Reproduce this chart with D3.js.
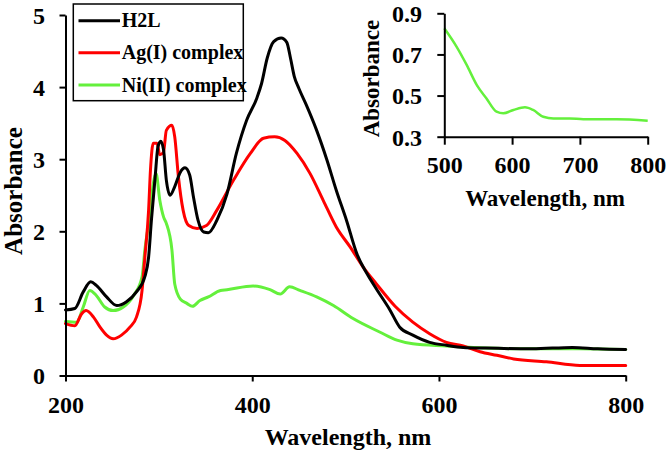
<!DOCTYPE html>
<html>
<head>
<meta charset="utf-8">
<script src="https://cdn.jsdelivr.net/npm/d3@7"></script>
<style>
  html, body { margin: 0; padding: 0; background: #fff; }
  svg { display: block; }
  text { font-family: "Liberation Serif", "Times New Roman", serif; font-weight: bold; fill: #000; }
</style>
</head>
<body>
<svg id="chart" width="669" height="454"></svg>
<script>
// ---------- data ----------
const seriesNames = ["H2L", "Ag(I) complex", "Ni(II) complex"];
const seriesColors = ["#000000", "#ff0000", "#64f03c"];

const h2lWavelength = [200, 210, 219, 227, 233, 244, 255, 265, 276, 285, 289, 292, 296, 299, 302, 305, 308, 312, 317, 323, 328, 333, 337, 342, 348, 353, 362, 373, 383, 394, 405, 410, 416, 423, 431, 437, 441, 445, 450, 458, 469, 480, 490, 501, 512, 523, 533, 547, 558, 572, 590, 608, 626, 650, 700, 743, 770, 800];
const h2lAbs = [0.91, 0.93, 1.16, 1.30, 1.25, 1.09, 0.97, 1.02, 1.16, 1.37, 1.64, 2.15, 2.75, 3.17, 3.25, 3.13, 2.71, 2.50, 2.62, 2.82, 2.88, 2.78, 2.48, 2.15, 1.99, 1.98, 2.15, 2.52, 3.08, 3.54, 3.85, 4.05, 4.40, 4.63, 4.68, 4.62, 4.40, 4.15, 3.98, 3.75, 3.40, 2.99, 2.57, 2.15, 1.69, 1.41, 1.20, 0.92, 0.67, 0.56, 0.46, 0.42, 0.39, 0.38, 0.37, 0.39, 0.37, 0.36];

const agWavelength = [200, 210, 217, 222, 230, 237, 244, 251, 260, 269, 276, 282, 285, 289, 291, 294, 298, 301, 305, 308, 314, 317, 321, 326, 332, 341, 351, 362, 380, 398, 412, 424, 435, 448, 462, 476, 490, 505, 519, 533, 553, 572, 590, 608, 626, 644, 662, 680, 715, 751, 800];
const agAbs = [0.72, 0.69, 0.85, 0.90, 0.81, 0.67, 0.56, 0.51, 0.56, 0.67, 0.81, 1.18, 1.64, 2.29, 2.85, 3.22, 3.22, 3.06, 3.10, 3.40, 3.47, 3.31, 2.75, 2.29, 2.08, 2.04, 2.08, 2.29, 2.71, 3.08, 3.29, 3.31, 3.26, 3.08, 2.80, 2.43, 2.06, 1.78, 1.50, 1.27, 0.96, 0.74, 0.58, 0.46, 0.41, 0.33, 0.28, 0.23, 0.19, 0.14, 0.14];

const niWavelength = [200, 212, 219, 226, 233, 242, 251, 262, 273, 282, 285, 291, 294, 297, 301, 305, 308, 314, 317, 323, 330, 336, 344, 353, 366, 373, 401, 419, 430, 440, 451, 469, 487, 508, 537, 555, 572, 608, 650, 700, 750, 800];
const niAbs = [0.75, 0.74, 0.95, 1.18, 1.11, 0.95, 0.90, 0.95, 1.11, 1.37, 1.74, 2.29, 2.66, 2.80, 2.43, 2.20, 2.11, 1.74, 1.27, 1.06, 1.00, 0.96, 1.04, 1.09, 1.18, 1.19, 1.24, 1.19, 1.13, 1.23, 1.18, 1.09, 0.97, 0.79, 0.60, 0.49, 0.44, 0.41, 0.38, 0.37, 0.37, 0.36];

const insetWavelength = [500, 518, 533, 548, 562, 577, 587, 602, 619, 631, 646, 661, 685, 705, 754, 800];
const insetAbs = [0.827, 0.738, 0.649, 0.551, 0.487, 0.422, 0.414, 0.430, 0.443, 0.430, 0.397, 0.389, 0.389, 0.385, 0.385, 0.378];

const mainXTicks = [200, 400, 600, 800];
const mainYTicks = [0, 1, 2, 3, 4, 5];
const insetXTicks = [500, 600, 700, 800];
const insetYTicks = [0.3, 0.5, 0.7, 0.9];
const xTitle = "Wavelength, nm";
const yTitle = "Absorbance";

// ---------- drawing ----------
const svg = d3.select("#chart");
const zip = (xs, ys) => xs.map((x, i) => [x, ys[i]]);

// main scales
const x = d3.scaleLinear().domain([200, 800]).range([65.5, 625.7]);
const y = d3.scaleLinear().domain([0, 5]).range([375.5, 15]);

const line = d3.line().x(d => x(d[0])).y(d => y(d[1])).curve(d3.curveMonotoneX);

const seriesData = [zip(h2lWavelength, h2lAbs), zip(agWavelength, agAbs), zip(niWavelength, niAbs)];
const drawOrder = [2, 1, 0];
drawOrder.forEach(i => {
  svg.append("path")
    .datum(seriesData[i])
    .attr("fill", "none")
    .attr("stroke", seriesColors[i])
    .attr("stroke-width", 3)
    .attr("stroke-linejoin", "round")
    .attr("stroke-linecap", "round")
    .attr("d", line);
});

// main axes
const xAxis = svg.append("g").attr("transform", `translate(0,${y(0)})`)
  .call(d3.axisBottom(x).tickValues(mainXTicks).tickSize(6).tickSizeOuter(0).tickFormat(d3.format("d")));
xAxis.selectAll("text").attr("y", 37.5).attr("dy", null).style("font-size", "24px");

const yAxis = svg.append("g").attr("transform", `translate(${x(200)},0)`)
  .call(d3.axisLeft(y).tickValues(mainYTicks).tickSize(6).tickSizeOuter(0).tickFormat(d3.format("d")));
yAxis.selectAll("text").attr("x", -20.5).attr("dy", "0.35em").style("font-size", "24px");

[xAxis, yAxis].forEach(g => {
  g.select(".domain").attr("stroke", "#000").attr("stroke-width", 2);
  g.selectAll(".tick line").attr("stroke", "#000").attr("stroke-width", 2);
  g.attr("font-family", null).attr("font-size", null);
});

// main axis titles
svg.append("text").attr("x", 348).attr("y", 445).attr("text-anchor", "middle")
  .style("font-size", "24px").text(xTitle);
svg.append("text").attr("transform", "translate(22,191) rotate(-90)").attr("text-anchor", "middle")
  .style("font-size", "25px").text(yTitle);

// legend
const legend = svg.append("g");
legend.append("rect").attr("x", 73.3).attr("y", 4).attr("width", 170).attr("height", 96.7)
  .attr("fill", "#fff").attr("stroke", "#000").attr("stroke-width", 1.5);
const legendRows = [20.7, 52.7, 85];
seriesNames.forEach((name, i) => {
  legend.append("line").attr("x1", 78.5).attr("x2", 120).attr("y1", legendRows[i]).attr("y2", legendRows[i])
    .attr("stroke", seriesColors[i]).attr("stroke-width", 3);
  legend.append("text").attr("x", 121.7).attr("y", legendRows[i]).attr("dy", "0.33em")
    .style("font-size", "20px").text(name);
});

// inset
const xi = d3.scaleLinear().domain([500, 800]).range([444.3, 647.7]);
const yi = d3.scaleLinear().domain([0.3, 0.9]).range([136.7, 13.3]);
const lineI = d3.line().x(d => xi(d[0])).y(d => yi(d[1])).curve(d3.curveMonotoneX);

svg.append("path").datum(zip(insetWavelength, insetAbs))
  .attr("fill", "none").attr("stroke", seriesColors[2]).attr("stroke-width", 2.5)
  .attr("stroke-linejoin", "round").attr("d", lineI);

const xAxisI = svg.append("g").attr("transform", `translate(0,${yi(0.3)})`)
  .call(d3.axisBottom(xi).tickValues(insetXTicks).tickSize(8).tickSizeOuter(0).tickFormat(d3.format("d")));
xAxisI.selectAll("text").attr("y", 36.3).attr("dy", null).style("font-size", "24px");

const yAxisI = svg.append("g").attr("transform", `translate(${xi(500)},0)`)
  .call(d3.axisLeft(yi).tickValues(insetYTicks).tickSize(7).tickSizeOuter(0).tickFormat(d3.format(".1f")));
yAxisI.selectAll("text").attr("x", -22.3).attr("dy", "0.35em").style("font-size", "24px");

[xAxisI, yAxisI].forEach(g => {
  g.select(".domain").attr("stroke", "#000").attr("stroke-width", 2);
  g.selectAll(".tick line").attr("stroke", "#000").attr("stroke-width", 2);
  g.attr("font-family", null).attr("font-size", null);
});

svg.append("text").attr("x", 545).attr("y", 206).attr("text-anchor", "middle")
  .style("font-size", "23px").text(xTitle);
svg.append("text").attr("transform", "translate(378.5,78.5) rotate(-90)").attr("text-anchor", "middle")
  .style("font-size", "23px").text(yTitle);
</script>
</body>
</html>
